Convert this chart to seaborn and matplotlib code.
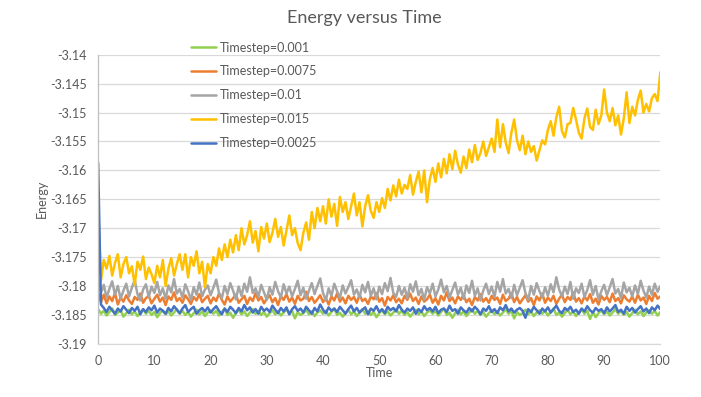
import numpy as np
import pandas as pd
import matplotlib
matplotlib.use("Agg")
import matplotlib.pyplot as plt
import seaborn as sns

# time axis: one sample every 0.5 time units
time = np.linspace(0, 100, 201)

series_labels = ['Timestep=0.001', 'Timestep=0.0075', 'Timestep=0.01',
                 'Timestep=0.015', 'Timestep=0.0025']
series_colors = ['#92D050', '#ED7D31', '#A5A5A5', '#FFC000', '#4472C4']

energy_0015 = [
    -3.1670, -3.1790, -3.1755, -3.1770, -3.1748, -3.1782, -3.1760, -3.1745, -3.1785, -3.1762,
    -3.1750, -3.1778, -3.1766, -3.1798, -3.1758, -3.1772, -3.1749, -3.1788, -3.1768, -3.1780,
    -3.1795, -3.1765, -3.1785, -3.1755, -3.1800, -3.1770, -3.1752, -3.1782, -3.1762, -3.1745,
    -3.1772, -3.1745, -3.1785, -3.1750, -3.1765, -3.1740, -3.1778, -3.1758, -3.1802, -3.1762,
    -3.1778, -3.1750, -3.1765, -3.1735, -3.1755, -3.1728, -3.1750, -3.1720, -3.1742, -3.1712,
    -3.1738, -3.1700, -3.1728, -3.1712, -3.1688, -3.1725, -3.1705, -3.1740, -3.1698, -3.1718,
    -3.1692, -3.1724, -3.1708, -3.1684, -3.1715, -3.1698, -3.1730, -3.1704, -3.1678, -3.1712,
    -3.1700, -3.1726, -3.1738, -3.1708, -3.1690, -3.1720, -3.1672, -3.1700, -3.1665, -3.1688,
    -3.1662, -3.1692, -3.1650, -3.1680, -3.1658, -3.1696, -3.1646, -3.1672, -3.1655, -3.1684,
    -3.1662, -3.1640, -3.1678, -3.1655, -3.1697, -3.1662, -3.1643, -3.1670, -3.1682, -3.1655,
    -3.1672, -3.1648, -3.1665, -3.1632, -3.1652, -3.1626, -3.1645, -3.1616, -3.1640, -3.1625,
    -3.1632, -3.1608, -3.1642, -3.1620, -3.1602, -3.1638, -3.1600, -3.1655, -3.1615, -3.1596,
    -3.1620, -3.1588, -3.1612, -3.1580, -3.1605, -3.1572, -3.1598, -3.1566, -3.1590, -3.1604,
    -3.1576, -3.1596, -3.1564, -3.1586, -3.1556, -3.1582, -3.1570, -3.1550, -3.1575, -3.1560,
    -3.1545, -3.1568, -3.1512, -3.1560, -3.1520, -3.1552, -3.1570, -3.1535, -3.1512, -3.1548,
    -3.1565, -3.1540, -3.1572, -3.1550, -3.1568, -3.1558, -3.1583, -3.1565, -3.1548, -3.1555,
    -3.1530, -3.1515, -3.1540, -3.1508, -3.1490, -3.1532, -3.1543, -3.1520, -3.1518, -3.1492,
    -3.1512, -3.1535, -3.1545, -3.1510, -3.1493, -3.1525, -3.1530, -3.1495, -3.1520, -3.1505,
    -3.1460, -3.1500, -3.1515, -3.1492, -3.1522, -3.1505, -3.1538, -3.1510, -3.1465, -3.1518,
    -3.1490, -3.1505, -3.1478, -3.1462, -3.1500, -3.1485, -3.1498, -3.1475, -3.1468, -3.1480,
    -3.1430,
]

energy_001 = [
    -3.1790, -3.1812, -3.1798, -3.1820, -3.1805, -3.1792, -3.1815, -3.1800, -3.1822, -3.1808,
    -3.1796, -3.1818, -3.1803, -3.1790, -3.1814, -3.1825, -3.1806, -3.1797, -3.1819, -3.1801,
    -3.1812, -3.1793, -3.1816, -3.1804, -3.1822, -3.1799, -3.1811, -3.1788, -3.1813, -3.1805,
    -3.1820, -3.1797, -3.1809, -3.1824, -3.1802, -3.1815, -3.1794, -3.1818, -3.1806, -3.1799,
    -3.1816, -3.1803, -3.1789, -3.1812, -3.1821, -3.1800, -3.1814, -3.1795, -3.1808, -3.1823,
    -3.1801, -3.1817, -3.1796, -3.1810, -3.1785, -3.1812, -3.1804, -3.1819, -3.1798, -3.1811,
    -3.1824, -3.1802, -3.1815, -3.1793, -3.1809, -3.1820, -3.1797, -3.1813, -3.1801, -3.1818,
    -3.1805, -3.1791, -3.1816, -3.1803, -3.1822, -3.1808, -3.1795, -3.1814, -3.1800, -3.1787,
    -3.1812, -3.1825, -3.1804, -3.1817, -3.1796, -3.1809, -3.1821, -3.1799, -3.1813, -3.1802,
    -3.1790, -3.1815, -3.1806, -3.1820, -3.1798, -3.1811, -3.1793, -3.1817, -3.1804, -3.1823,
    -3.1801, -3.1814, -3.1795, -3.1809, -3.1786, -3.1812, -3.1819, -3.1800, -3.1815, -3.1803,
    -3.1821, -3.1797, -3.1810, -3.1792, -3.1816, -3.1805, -3.1824, -3.1802, -3.1813, -3.1796,
    -3.1818, -3.1806, -3.1789, -3.1811, -3.1800, -3.1820, -3.1807, -3.1794, -3.1815, -3.1803,
    -3.1822, -3.1799, -3.1812, -3.1791, -3.1817, -3.1804, -3.1825, -3.1808, -3.1796, -3.1814,
    -3.1801, -3.1819, -3.1793, -3.1810, -3.1788, -3.1813, -3.1805, -3.1821, -3.1798, -3.1816,
    -3.1803, -3.1790, -3.1812, -3.1824, -3.1800, -3.1815, -3.1795, -3.1809, -3.1820, -3.1802,
    -3.1817, -3.1797, -3.1811, -3.1785, -3.1806, -3.1818, -3.1801, -3.1814, -3.1793, -3.1822,
    -3.1804, -3.1812, -3.1796, -3.1819, -3.1807, -3.1790, -3.1815, -3.1800, -3.1823, -3.1809,
    -3.1798, -3.1816, -3.1802, -3.1788, -3.1813, -3.1805, -3.1821, -3.1794, -3.1811, -3.1803,
    -3.1818, -3.1799, -3.1814, -3.1791, -3.1808, -3.1820, -3.1801, -3.1815, -3.1796, -3.1810,
    -3.1800,
]

energy_00075 = [
    -3.1812, -3.1828, -3.1815, -3.1830, -3.1818, -3.1826, -3.1812, -3.1832, -3.1820, -3.1827,
    -3.1816, -3.1825, -3.1831, -3.1819, -3.1824, -3.1813, -3.1829, -3.1821, -3.1817, -3.1830,
    -3.1822, -3.1815, -3.1827, -3.1820, -3.1833, -3.1818, -3.1824, -3.1811, -3.1826, -3.1821,
    -3.1829, -3.1816, -3.1823, -3.1831, -3.1819, -3.1825, -3.1814, -3.1828, -3.1822, -3.1817,
    -3.1830, -3.1820, -3.1826, -3.1813, -3.1824, -3.1832, -3.1818, -3.1827, -3.1821, -3.1815,
    -3.1829, -3.1823, -3.1817, -3.1831, -3.1820, -3.1826, -3.1812, -3.1825, -3.1819, -3.1830,
    -3.1822, -3.1816, -3.1828, -3.1821, -3.1833, -3.1818, -3.1824, -3.1814, -3.1827, -3.1820,
    -3.1831, -3.1817, -3.1825, -3.1822, -3.1810, -3.1826, -3.1819, -3.1829, -3.1823, -3.1816,
    -3.1828, -3.1821, -3.1832, -3.1818, -3.1825, -3.1813, -3.1827, -3.1820, -3.1830, -3.1817,
    -3.1824, -3.1819, -3.1829, -3.1815, -3.1826, -3.1822, -3.1831, -3.1818, -3.1823, -3.1812,
    -3.1827, -3.1821, -3.1834, -3.1819, -3.1825, -3.1816, -3.1828, -3.1822, -3.1830, -3.1817,
    -3.1824, -3.1813, -3.1826, -3.1820, -3.1831, -3.1818, -3.1827, -3.1823, -3.1815, -3.1829,
    -3.1821, -3.1832, -3.1817, -3.1825, -3.1811, -3.1826, -3.1820, -3.1830, -3.1818, -3.1824,
    -3.1816, -3.1828, -3.1822, -3.1833, -3.1819, -3.1825, -3.1814, -3.1827, -3.1821, -3.1829,
    -3.1817, -3.1824, -3.1820, -3.1831, -3.1815, -3.1826, -3.1822, -3.1812, -3.1828, -3.1819,
    -3.1830, -3.1823, -3.1816, -3.1827, -3.1821, -3.1833, -3.1818, -3.1825, -3.1813, -3.1829,
    -3.1820, -3.1826, -3.1817, -3.1831, -3.1822, -3.1815, -3.1828, -3.1819, -3.1824, -3.1811,
    -3.1827, -3.1821, -3.1830, -3.1818, -3.1825, -3.1814, -3.1829, -3.1822, -3.1832, -3.1817,
    -3.1824, -3.1819, -3.1828, -3.1813, -3.1826, -3.1821, -3.1830, -3.1816, -3.1823, -3.1827,
    -3.1818, -3.1829, -3.1815, -3.1825, -3.1820, -3.1831, -3.1817, -3.1826, -3.1812, -3.1822,
    -3.1818,
]

energy_00025 = [
    -3.1587, -3.1832, -3.1838, -3.1845, -3.1836, -3.1842, -3.1848, -3.1839, -3.1844, -3.1835,
    -3.1841, -3.1847, -3.1838, -3.1843, -3.1836, -3.1849, -3.1840, -3.1845, -3.1837, -3.1842,
    -3.1834, -3.1846, -3.1839, -3.1843, -3.1848, -3.1838, -3.1844, -3.1835, -3.1841, -3.1847,
    -3.1839, -3.1833, -3.1845, -3.1840, -3.1836, -3.1848, -3.1842, -3.1838, -3.1844, -3.1837,
    -3.1846, -3.1840, -3.1835, -3.1843, -3.1849, -3.1839, -3.1845, -3.1836, -3.1841, -3.1847,
    -3.1838, -3.1844, -3.1833, -3.1842, -3.1837, -3.1846, -3.1840, -3.1848, -3.1836, -3.1843,
    -3.1839, -3.1845, -3.1834, -3.1841, -3.1847, -3.1838, -3.1844, -3.1837, -3.1849, -3.1840,
    -3.1835, -3.1843, -3.1839, -3.1846, -3.1836, -3.1842, -3.1848, -3.1838, -3.1844, -3.1832,
    -3.1841, -3.1847, -3.1837, -3.1843, -3.1839, -3.1845, -3.1836, -3.1842, -3.1848, -3.1840,
    -3.1834, -3.1844, -3.1838, -3.1846, -3.1841, -3.1837, -3.1849, -3.1839, -3.1843, -3.1835,
    -3.1845, -3.1840, -3.1847, -3.1836, -3.1842, -3.1838, -3.1844, -3.1833, -3.1841, -3.1846,
    -3.1839, -3.1843, -3.1837, -3.1848, -3.1840, -3.1845, -3.1835, -3.1842, -3.1838, -3.1844,
    -3.1836, -3.1847, -3.1841, -3.1839, -3.1845, -3.1834, -3.1843, -3.1840, -3.1848, -3.1837,
    -3.1842, -3.1846, -3.1838, -3.1844, -3.1836, -3.1841, -3.1849, -3.1839, -3.1843, -3.1835,
    -3.1845, -3.1840, -3.1847, -3.1837, -3.1842, -3.1833, -3.1844, -3.1839, -3.1846, -3.1841,
    -3.1838, -3.1843, -3.1855, -3.1840, -3.1845, -3.1836, -3.1842, -3.1848, -3.1839, -3.1844,
    -3.1837, -3.1846, -3.1840, -3.1834, -3.1843, -3.1847, -3.1838, -3.1842, -3.1836, -3.1845,
    -3.1841, -3.1848, -3.1839, -3.1844, -3.1835, -3.1842, -3.1846, -3.1838, -3.1843, -3.1840,
    -3.1847, -3.1837, -3.1844, -3.1839, -3.1833, -3.1845, -3.1841, -3.1848, -3.1836, -3.1843,
    -3.1838, -3.1846, -3.1840, -3.1835, -3.1844, -3.1839, -3.1847, -3.1837, -3.1842, -3.1834,
    -3.1840,
]

energy_0001 = [
    -3.1840, -3.1848, -3.1843, -3.1851, -3.1845, -3.1839, -3.1850, -3.1846, -3.1842, -3.1853,
    -3.1847, -3.1841, -3.1849, -3.1844, -3.1852, -3.1846, -3.1840, -3.1848, -3.1843, -3.1850,
    -3.1845, -3.1854, -3.1847, -3.1842, -3.1849, -3.1844, -3.1851, -3.1846, -3.1840, -3.1848,
    -3.1843, -3.1850, -3.1845, -3.1853, -3.1847, -3.1841, -3.1849, -3.1844, -3.1852, -3.1846,
    -3.1842, -3.1848, -3.1843, -3.1851, -3.1845, -3.1839, -3.1850, -3.1846, -3.1855, -3.1847,
    -3.1841, -3.1849, -3.1844, -3.1852, -3.1846, -3.1840, -3.1848, -3.1843, -3.1850, -3.1845,
    -3.1853, -3.1847, -3.1842, -3.1849, -3.1844, -3.1851, -3.1846, -3.1840, -3.1848, -3.1843,
    -3.1856, -3.1845, -3.1850, -3.1847, -3.1841, -3.1849, -3.1844, -3.1852, -3.1846, -3.1842,
    -3.1848, -3.1843, -3.1851, -3.1845, -3.1839, -3.1850, -3.1846, -3.1853, -3.1847, -3.1841,
    -3.1849, -3.1844, -3.1852, -3.1846, -3.1840, -3.1848, -3.1843, -3.1850, -3.1845, -3.1854,
    -3.1847, -3.1842, -3.1849, -3.1844, -3.1851, -3.1846, -3.1840, -3.1848, -3.1843, -3.1850,
    -3.1845, -3.1853, -3.1847, -3.1841, -3.1849, -3.1844, -3.1852, -3.1846, -3.1842, -3.1848,
    -3.1843, -3.1851, -3.1845, -3.1839, -3.1850, -3.1846, -3.1855, -3.1847, -3.1841, -3.1849,
    -3.1844, -3.1852, -3.1846, -3.1840, -3.1848, -3.1843, -3.1850, -3.1845, -3.1853, -3.1847,
    -3.1842, -3.1849, -3.1844, -3.1851, -3.1846, -3.1840, -3.1848, -3.1843, -3.1856, -3.1845,
    -3.1850, -3.1847, -3.1841, -3.1849, -3.1844, -3.1852, -3.1846, -3.1842, -3.1848, -3.1843,
    -3.1851, -3.1845, -3.1839, -3.1850, -3.1846, -3.1853, -3.1847, -3.1841, -3.1849, -3.1844,
    -3.1852, -3.1846, -3.1840, -3.1848, -3.1843, -3.1857, -3.1845, -3.1854, -3.1847, -3.1842,
    -3.1849, -3.1844, -3.1851, -3.1846, -3.1840, -3.1848, -3.1843, -3.1850, -3.1845, -3.1853,
    -3.1847, -3.1841, -3.1849, -3.1844, -3.1852, -3.1846, -3.1842, -3.1848, -3.1843, -3.1851,
    -3.1845,
]

x_ticks = [0, 10, 20, 30, 40, 50, 60, 70, 80, 90, 100]
y_ticks = [-3.19, -3.185, -3.18, -3.175, -3.17, -3.165, -3.16, -3.155, -3.15, -3.145, -3.14]

# long-form table for seaborn
series_values = [energy_0001, energy_00075, energy_001, energy_0015, energy_00025]
frames = []
for label, values in zip(series_labels, series_values):
    frames.append(pd.DataFrame({'Time': time, 'Energy': values, 'series': label}))
data = pd.concat(frames, ignore_index=True)

sns.set_style('white')
plt.rcParams['font.family'] = ['Lato', 'DejaVu Sans']

fig = plt.figure(figsize=(7.01, 3.97), dpi=100)
ax = fig.add_axes([0.140, 0.134, 0.802, 0.728])

sns.lineplot(
    data=data, x='Time', y='Energy', hue='series',
    hue_order=series_labels, palette=series_colors,
    estimator=None, sort=False, linewidth=1.8, ax=ax, legend=True
)

ax.set_xlim(0, 100)
ax.set_ylim(-3.19, -3.14)
ax.set_xticks(x_ticks)
ax.set_yticks(y_ticks)
ax.set_yticklabels([f'{v:g}' for v in y_ticks])
ax.tick_params(axis='both', length=0, labelsize=9, labelcolor='#595959', pad=8)
ax.grid(axis='y', color='#D9D9D9', linewidth=0.9)
ax.set_axisbelow(True)
for side in ['top', 'right']:
    ax.spines[side].set_visible(False)
ax.spines['left'].set_color('#BFBFBF')
ax.spines['bottom'].set_color('#D9D9D9')
ax.spines['left'].set_linewidth(0.9)
ax.spines['bottom'].set_linewidth(0.9)

ax.set_xlabel('Time', fontsize=9, color='#595959', labelpad=0)
ax.set_ylabel('Energy', fontsize=9, color='#595959', labelpad=2)
fig.suptitle('Energy versus Time', x=0.52, y=0.975, fontsize=13, color='#595959')

handles, labels = ax.get_legend_handles_labels()
ax.legend(handles, labels, loc='upper left', bbox_to_anchor=(0.266, 0.908),
          bbox_transform=fig.transFigure, frameon=False, fontsize=9,
          labelcolor='#595959', handlelength=2.0, handletextpad=0.3,
          labelspacing=0.95, borderaxespad=0)

fig.savefig('out.png', dpi=100)
